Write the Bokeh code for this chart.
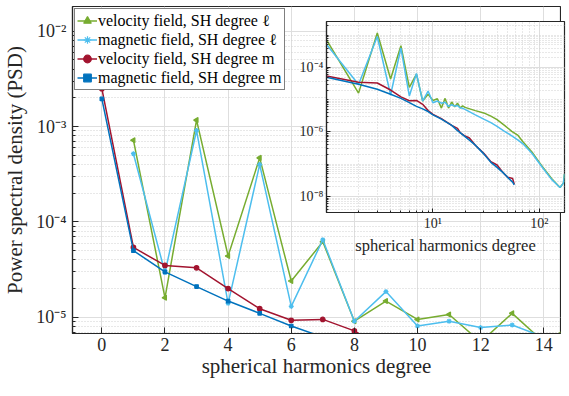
import numpy as np
from bokeh.plotting import figure
from bokeh.models import FixedTicker, Legend, LegendItem
from bokeh.embed import file_html
from bokeh.resources import INLINE

# ---------------- data ----------------
l_deg = [1, 2, 3, 4, 5, 6, 7, 8, 9, 10, 11, 12, 13, 14, 15, 16, 17, 18, 19, 20,
         25, 30, 35, 40, 47, 55, 63, 70, 85, 105, 130, 156, 168, 172]
vel_l = [7.2e-4, 1.6e-5, 1.17e-3, 4.4e-5, 4.7e-4, 2.4e-5, 6.2e-5, 9.1e-6, 1.48e-5, 9.5e-6,
         1.07e-5, 5.5e-6, 1.1e-5, 5.5e-6, 8.5e-6, 6.0e-6, 7.8e-6, 5.6e-6, 6.4e-6, 5.8e-6,
         4.6e-6, 3.9e-6, 3.1e-6, 2.4e-6, 1.6e-6, 1.05e-6, 7.8e-7, 5.0e-7, 2.4e-7, 9e-8,
         3.6e-8, 1.9e-8, 2.6e-8, 5e-8]
mag_l = [5.2e-4, 2.95e-5, 9.1e-4, 1.4e-5, 4.0e-4, 1.3e-5, 6.5e-5, 9.1e-6, 1.86e-5, 8.1e-6,
         9.1e-6, 7.8e-6, 8.3e-6, 6.2e-6, 7.0e-6, 6.3e-6, 6.6e-6, 5.6e-6, 5.4e-6, 5.0e-6,
         3.4e-6, 2.5e-6, 1.95e-6, 1.5e-6, 1.05e-6, 7.6e-7, 5.6e-7, 4.3e-7, 2.2e-7, 8.5e-8,
         3.4e-8, 1.9e-8, 2.6e-8, 5e-8]

m_deg = [0, 1, 2, 3, 4, 5, 6, 7, 8, 9, 10, 12, 15, 17, 18, 20, 22, 25, 30, 35, 40, 45, 50, 56, 58]
vel_m = [2.5e-3, 5.4e-5, 3.5e-5, 3.3e-5, 2.0e-5, 1.23e-5, 9.3e-6, 9.5e-6, 7.2e-6, 4.6e-6,
         3.5e-6, 2.6e-6, 1.6e-6, 1.3e-6, 9.5e-7, 7.5e-7, 6.5e-7, 3.9e-7, 2.2e-7, 1.2e-7,
         9.5e-8, 5.8e-8, 4.0e-8, 3.6e-8, 2.4e-8]
mag_m = [1.95e-3, 5.0e-5, 3.0e-5, 2.1e-5, 1.48e-5, 1.1e-5, 8.1e-6, 6.2e-6, 5.2e-6, 4.3e-6,
         3.4e-6, 2.5e-6, 1.6e-6, 1.1e-6, 9.5e-7, 7.2e-7, 5.6e-7, 3.9e-7, 2.1e-7, 1.15e-7,
         8.0e-8, 5.7e-8, 4.0e-8, 2.8e-8, 2.3e-8]

labels = ["velocity field, SH degree ℓ", "magnetic field, SH degree ℓ",
          "velocity field, SH degree m", "magnetic field, SH degree m"]
main_xticks = [0, 2, 4, 6, 8, 10, 12, 14]
main_yticks = [1e-5, 1e-4, 1e-3, 1e-2]
inset_xticks = [10, 100]
inset_yticks = [1e-8, 1e-6, 1e-4]

SUP = str.maketrans("-0123456789", "⁻⁰¹²³⁴⁵⁶⁷⁸⁹")
def sup_label(v):
    e = int(round(np.log10(v)))
    return "10" + str(e).translate(SUP)

def minors(lo_exp, hi_exp):
    return [m * 10.0 ** e for e in range(lo_exp, hi_exp + 1) for m in range(1, 10)]

colors = ["#77AC30", "#4DBEEE", "#A2142F", "#0072BD"]
FONT = "Liberation Serif"
TXT = "#262626"
GRID = "#dedede"

series = [(l_deg, vel_l), (l_deg, mag_l), (m_deg, vel_m), (m_deg, mag_m)]
markers = [("triangle", np.pi / 2, 5), ("asterisk", 0, 5), ("circle", 0, 4.5), ("square", 0, 3.5)]

def style_axis(ax, tick_font, label_font, tin, tmin):
    ax.axis_line_color = "#262626"
    ax.axis_line_width = 1.2
    ax.major_tick_in = tin
    ax.major_tick_out = 0
    ax.minor_tick_in = tmin
    ax.minor_tick_out = 0
    ax.major_tick_line_color = "#262626"
    ax.minor_tick_line_color = "#262626"
    ax.major_label_text_font = FONT
    ax.major_label_text_font_size = tick_font
    ax.major_label_text_color = TXT
    ax.axis_label_text_font = FONT
    ax.axis_label_text_font_size = label_font
    ax.axis_label_text_font_style = "normal"
    ax.axis_label_text_color = TXT

# ---------------- main figure ----------------
p = figure(width=561, height=380, y_axis_type="log",
           x_range=(-0.93, 14.53), y_range=(10 ** -5.17, 10 ** -1.74),
           output_backend="svg", toolbar_location=None,
           min_border_left=62, min_border_right=1, min_border_top=6, min_border_bottom=42)
p.outline_line_color = "#262626"
p.outline_line_width = 1.2
p.background_fill_color = "white"

items = []
for (xs, ys), c, (mk, ang, sz), lab in zip(series, colors, markers, labels):
    xs = np.array(xs); ys = np.array(ys)
    sel = xs <= 16
    r1 = p.line(xs[sel], ys[sel], line_color=c, line_width=1.5)
    r2 = p.scatter(xs[sel], ys[sel], marker=mk, angle=ang, size=sz,
                   line_color=c, fill_color=c, line_width=1.2)
    items.append(LegendItem(label=lab, renderers=[r1, r2]))

leg = Legend(items=items, location="top_left")
leg.margin = 2
leg.padding = 2
leg.spacing = 0
leg.label_height = 19
leg.glyph_height = 19
leg.glyph_width = 20
leg.label_standoff = 1
leg.label_text_font = FONT
leg.label_text_font_size = "16px"
leg.label_text_color = "black"
leg.border_line_color = "black"
leg.border_line_width = 1
leg.background_fill_alpha = 1
p.add_layout(leg)

p.xaxis.ticker = FixedTicker(ticks=main_xticks)
p.yaxis.ticker = FixedTicker(ticks=main_yticks, minor_ticks=minors(-6, -2))
p.yaxis.major_label_overrides = {v: sup_label(v) for v in main_yticks}
style_axis(p.xaxis, "18px", "21px", 6, 3)
style_axis(p.yaxis, "18px", "21px", 6, 3)
p.xaxis.minor_tick_line_color = None
p.xaxis.axis_label = "spherical harmonics degree"
p.yaxis.axis_label = "Power spectral density (PSD)"
p.xaxis.major_label_standoff = 4
p.xaxis.axis_label_standoff = 0
p.yaxis.major_label_standoff = 6
p.yaxis.axis_label_standoff = 6

p.xgrid.grid_line_color = GRID
p.ygrid.grid_line_color = GRID
p.ygrid.minor_grid_line_color = "#d0d0d0"
p.ygrid.minor_grid_line_dash = "1 2"

# ---------------- inset figure ----------------
q = figure(frame_width=238, frame_height=191, x_axis_type="log", y_axis_type="log",
           x_range=(1, 172), y_range=(10 ** -8.495, 10 ** -2.576),
           output_backend="svg", toolbar_location=None,
           min_border_left=34, min_border_right=2, min_border_top=2, min_border_bottom=42)
q.border_fill_color = None
q.background_fill_color = "white"
q.outline_line_color = "#262626"
q.outline_line_width = 1.2

for (xs, ys), c in zip(series, colors):
    xs = np.array(xs, dtype=float); ys = np.array(ys)
    sel = xs >= 1
    q.line(xs[sel], ys[sel], line_color=c, line_width=1.5)

q.xaxis.ticker = FixedTicker(ticks=inset_xticks, minor_ticks=minors(0, 2))
q.yaxis.ticker = FixedTicker(ticks=inset_yticks, minor_ticks=minors(-9, -2))
q.xaxis.major_label_overrides = {v: sup_label(v) for v in inset_xticks}
q.yaxis.major_label_overrides = {v: sup_label(v) for v in inset_yticks}
style_axis(q.xaxis, "14px", "16.5px", 4, 2)
style_axis(q.yaxis, "14px", "16.5px", 4, 2)
q.xaxis.axis_label = "spherical harmonics degree"
q.xaxis.major_label_standoff = 3
q.xaxis.axis_label_standoff = 2
q.yaxis.major_label_standoff = 3
q.xgrid.grid_line_color = GRID
q.ygrid.grid_line_color = GRID
q.xgrid.minor_grid_line_color = "#d0d0d0"
q.xgrid.minor_grid_line_dash = "1 2"
q.ygrid.minor_grid_line_color = "#d0d0d0"
q.ygrid.minor_grid_line_dash = "1 2"
q.styles = {"position": "absolute", "left": "292px", "top": "19px", "z-index": "10"}

open("out.html", "w").write(file_html([p, q], INLINE))
